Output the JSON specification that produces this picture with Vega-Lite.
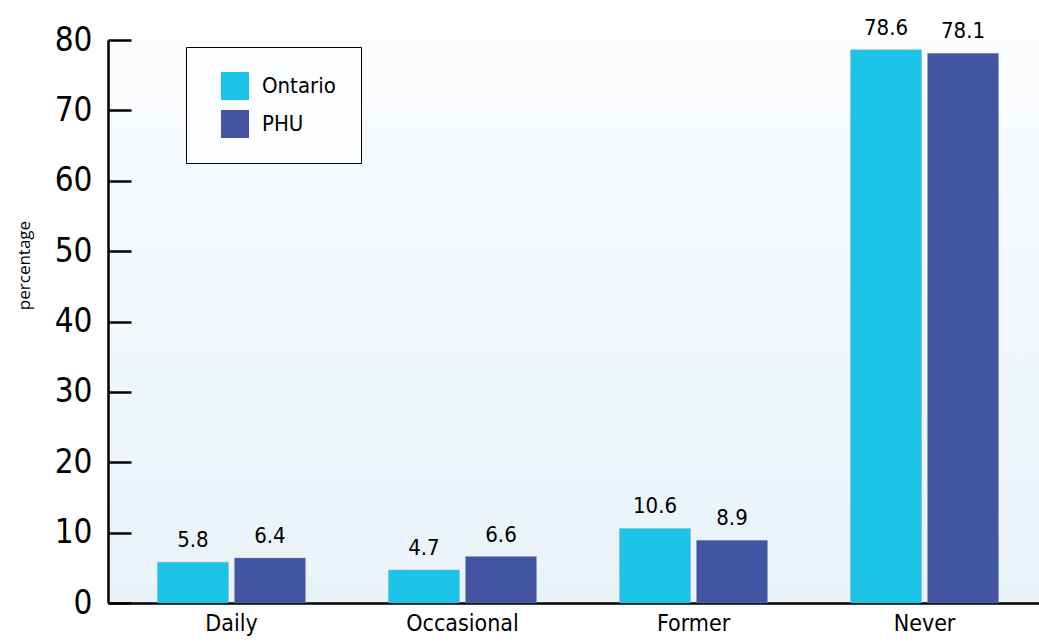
{
  "$schema": "https://vega.github.io/schema/vega-lite/v6.json",
  "autosize": "none",
  "width": 931,
  "height": 563,
  "padding": {"left": 108, "top": 40, "right": 0, "bottom": 40},
  "background": "white",
  "view": {
    "stroke": null,
    "fill": {
      "gradient": "linear",
      "x1": 0, "y1": 1, "x2": 0, "y2": 0,
      "stops": [
        {"offset": 0, "color": "#e8f3f8"},
        {"offset": 1, "color": "#fbfcfe"}
      ]
    }
  },
  "data": {
    "values": [
      {"category": "Daily", "region": "Ontario", "value": 5.8},
      {"category": "Daily", "region": "PHU", "value": 6.4},
      {"category": "Occasional", "region": "Ontario", "value": 4.7},
      {"category": "Occasional", "region": "PHU", "value": 6.6},
      {"category": "Former", "region": "Ontario", "value": 10.6},
      {"category": "Former", "region": "PHU", "value": 8.9},
      {"category": "Never", "region": "Ontario", "value": 78.6},
      {"category": "Never", "region": "PHU", "value": 78.1}
    ]
  },
  "encoding": {
    "x": {
      "field": "category",
      "type": "nominal",
      "sort": ["Daily", "Occasional", "Former", "Never"],
      "scale": {"paddingInner": 0.3593, "paddingOuter": 0.1946, "align": 0.55},
      "axis": {
        "title": null,
        "labelAngle": 0,
        "ticks": false,
        "domainColor": "black",
        "domainWidth": 2.5,
        "labelFont": "'Liberation Sans Narrow', 'DejaVu Sans Condensed', Roboto, sans-serif",
        "labelFontSize": 23,
        "labelColor": "black",
        "labelPadding": 9,
        "labelBaseline": "top"
      }
    },
    "xOffset": {
      "field": "region",
      "type": "nominal",
      "sort": ["Ontario", "PHU"],
      "scale": {"paddingInner": 0.078, "paddingOuter": 0}
    },
    "y": {
      "field": "value",
      "type": "quantitative",
      "scale": {"domain": [0, 80], "nice": false},
      "axis": {
        "title": "percentage",
        "titleFont": "'Open Sans', 'Liberation Sans', sans-serif",
        "titleFontSize": 17,
        "titleFontWeight": "normal",
        "titleColor": "black",
        "titleX": -75,
        "titleY": 225,
        "values": [0, 10, 20, 30, 40, 50, 60, 70, 80],
        "grid": false,
        "domainColor": "black",
        "domainWidth": 2.5,
        "tickColor": "black",
        "tickWidth": 2.5,
        "tickSize": -23,
        "labelFont": "'Liberation Sans Narrow', 'DejaVu Sans Condensed', Roboto, sans-serif",
        "labelFontSize": 33,
        "labelColor": "black",
        "labelPadding": 39
      }
    }
  },
  "layer": [
    {
      "mark": {"type": "bar", "stroke": "#8a9ab8", "strokeWidth": 0.5, "strokeOpacity": 0.6},
      "encoding": {
        "color": {
          "field": "region",
          "type": "nominal",
          "sort": ["Ontario", "PHU"],
          "scale": {"domain": ["Ontario", "PHU"], "range": ["#1bc3e6", "#4354a3"]},
          "legend": {
            "title": null,
            "orient": "none",
            "legendX": 78,
            "legendY": 7,
            "padding": 25,
            "symbolType": "square",
            "symbolSize": 784,
            "symbolStrokeWidth": 0,
            "symbolOffset": 10,
            "symbolOpacity": 1,
            "labelOffset": 13,
            "labelFont": "'Liberation Sans Narrow', 'DejaVu Sans Condensed', Roboto, sans-serif",
            "labelFontSize": 22,
            "labelColor": "black",
            "rowPadding": 10,
            "fillColor": "#fcfdfe",
            "strokeColor": "black"
          }
        }
      }
    },
    {
      "mark": {
        "type": "text",
        "baseline": "alphabetic",
        "dy": -15,
        "font": "'Liberation Sans Narrow', 'DejaVu Sans Condensed', Roboto, sans-serif",
        "fontSize": 22,
        "color": "black"
      },
      "encoding": {
        "text": {"field": "value", "type": "quantitative", "format": ".1f"}
      }
    }
  ]
}
